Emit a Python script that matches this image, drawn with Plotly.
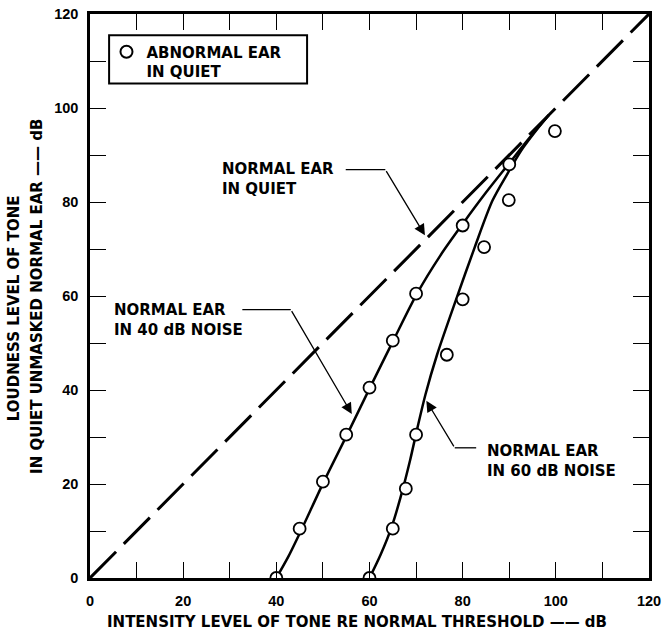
import plotly.graph_objects as go

# Normal ear in quiet: loudness level equals intensity level
quiet_x = [0, 120]
quiet_y = [0, 120]

# Normal ear masked by noise (smooth curves)
noise40_curve_x = [40, 42.6, 45.5, 50.2, 55.2, 60.1, 65.1, 70.2, 75.2, 80.2, 85.0, 89.8, 94.3, 98.5]
noise40_curve_y = [0, 4.6, 10.5, 20.5, 30.5, 40.5, 50.5, 60.5, 68.6, 75.6, 82.0, 88.0, 93.6, 98.5]
noise60_curve_x = [60, 62.4, 64.8, 66.9, 68.7, 70.3, 72.0, 74.5, 78.6, 82.6, 86.4, 89.6, 92.6, 95.6, 98.5]
noise60_curve_y = [0, 5.0, 11.0, 18.0, 25.0, 32.0, 39.0, 47.5, 59.3, 70.4, 80.3, 86.0, 91.0, 95.0, 98.5]

# Abnormal ear in quiet (measured points)
abn40_x = [40, 45, 50, 55, 60, 65, 70, 80, 90]
abn40_y = [0, 10.5, 20.5, 30.5, 40.5, 50.5, 60.5, 75.0, 88.0]
abn60_x = [60, 65, 67.8, 70, 76.6, 80, 84.6, 89.9, 99.8]
abn60_y = [0, 10.5, 19.0, 30.5, 47.5, 59.3, 70.4, 80.4, 95.1]

# Axis ticks
tick_vals = list(range(0, 121, 10))
tick_text = [str(v) if v % 20 == 0 else "" for v in tick_vals]

FONT = "DejaVu Sans"
INK = "black"
text_font = dict(family=FONT, size=15, color=INK, weight="bold")
num_font = dict(family="Liberation Sans", size=14.5, color=INK, weight="bold")

fig = go.Figure()

fig.add_trace(go.Scatter(
    x=quiet_x, y=quiet_y, mode="lines",
    line=dict(color=INK, width=3, dash="37px,11px"),
    showlegend=False, hoverinfo="skip",
))
for cx, cy in [(noise40_curve_x, noise40_curve_y), (noise60_curve_x, noise60_curve_y)]:
    fig.add_trace(go.Scatter(
        x=cx, y=cy, mode="lines",
        line=dict(color=INK, width=2.5, shape="spline", smoothing=0.8),
        showlegend=False, hoverinfo="skip",
    ))

marker = dict(symbol="circle", size=12, color="white", line=dict(color=INK, width=1.8))
fig.add_trace(go.Scatter(
    x=abn40_x, y=abn40_y, mode="markers", marker=marker,
    name="ABNORMAL EAR<br>IN QUIET", legendgroup="abn", showlegend=True,
))
fig.add_trace(go.Scatter(
    x=abn60_x, y=abn60_y, mode="markers", marker=marker,
    name="ABNORMAL EAR<br>IN QUIET", legendgroup="abn", showlegend=False,
))

# Legend frame
fig.add_shape(type="rect", xref="x", yref="y", x0=4.1, x1=46.6, y0=105.2, y1=115.5,
              line=dict(color=INK, width=2), fillcolor="rgba(0,0,0,0)", layer="above")

# Curve labels with leader lines
labels = [
    dict(text="NORMAL EAR<br>IN QUIET", x=27.8, y=85.0,
         seg=(54.9, 63.4, 86.9), tip=(71.9, 72.9)),
    dict(text="NORMAL EAR<br>IN 40 dB NOISE", x=4.7, y=55.0,
         seg=(32.7, 43.1, 57.1), tip=(56.2, 34.9)),
    dict(text="NORMAL EAR<br>IN 60 dB NOISE", x=84.7, y=25.0,
         seg=(82.9, 78.3, 27.7), tip=(72.2, 37.7)),
]
for lab in labels:
    fig.add_annotation(x=lab["x"], y=lab["y"], xref="x", yref="y", text=lab["text"],
                       showarrow=False, xanchor="left", yanchor="middle", align="left",
                       font=text_font)
    sx0, sx1, sy = lab["seg"]
    fig.add_shape(type="line", xref="x", yref="y", x0=sx0, x1=sx1, y0=sy, y1=sy,
                  line=dict(color=INK, width=1.3))
    fig.add_annotation(x=lab["tip"][0], y=lab["tip"][1], ax=sx1, ay=sy,
                       xref="x", yref="y", axref="x", ayref="y", text="",
                       showarrow=True, arrowhead=2, arrowsize=1.7, arrowwidth=1.3,
                       arrowcolor=INK, standoff=0)

# Axis titles
fig.add_annotation(x=0.478, y=-0.078, xref="paper", yref="paper",
                   text="INTENSITY LEVEL OF TONE RE NORMAL THRESHOLD —— dB",
                   showarrow=False, xanchor="center", yanchor="middle", font=text_font)
fig.add_annotation(x=-0.136, y=57.4, xref="paper", yref="y", text="LOUDNESS LEVEL OF TONE",
                   textangle=-90, showarrow=False, xanchor="center", yanchor="middle",
                   font=text_font)
fig.add_annotation(x=-0.095, y=60.0, xref="paper", yref="y",
                   text="IN QUIET UNMASKED NORMAL EAR —— dB",
                   textangle=-90, showarrow=False, xanchor="center", yanchor="middle",
                   font=text_font)

axis_common = dict(
    range=[0, 120], tickmode="array", tickvals=tick_vals, ticktext=tick_text,
    ticks="inside", ticklen=16, tickwidth=1.2, tickcolor=INK,
    showline=True, linewidth=2.5, linecolor=INK, mirror="ticks",
    showgrid=False, zeroline=False, automargin=False, ticklabeloverflow="allow",
    tickfont=num_font,
)

fig.update_layout(
    width=663, height=633,
    margin=dict(l=90, r=14, t=14, b=55),
    paper_bgcolor="white", plot_bgcolor="white",
    xaxis=dict(axis_common, ticklabelstandoff=8),
    yaxis=dict(axis_common, ticklabelstandoff=6),
    legend=dict(x=0.0295, y=0.962, xanchor="left", yanchor="top", valign="top",
                bgcolor="rgba(0,0,0,0)", borderwidth=0,
                font=text_font, itemsizing="constant", tracegroupgap=0),
    showlegend=True,
)

fig.write_html("out.html")
